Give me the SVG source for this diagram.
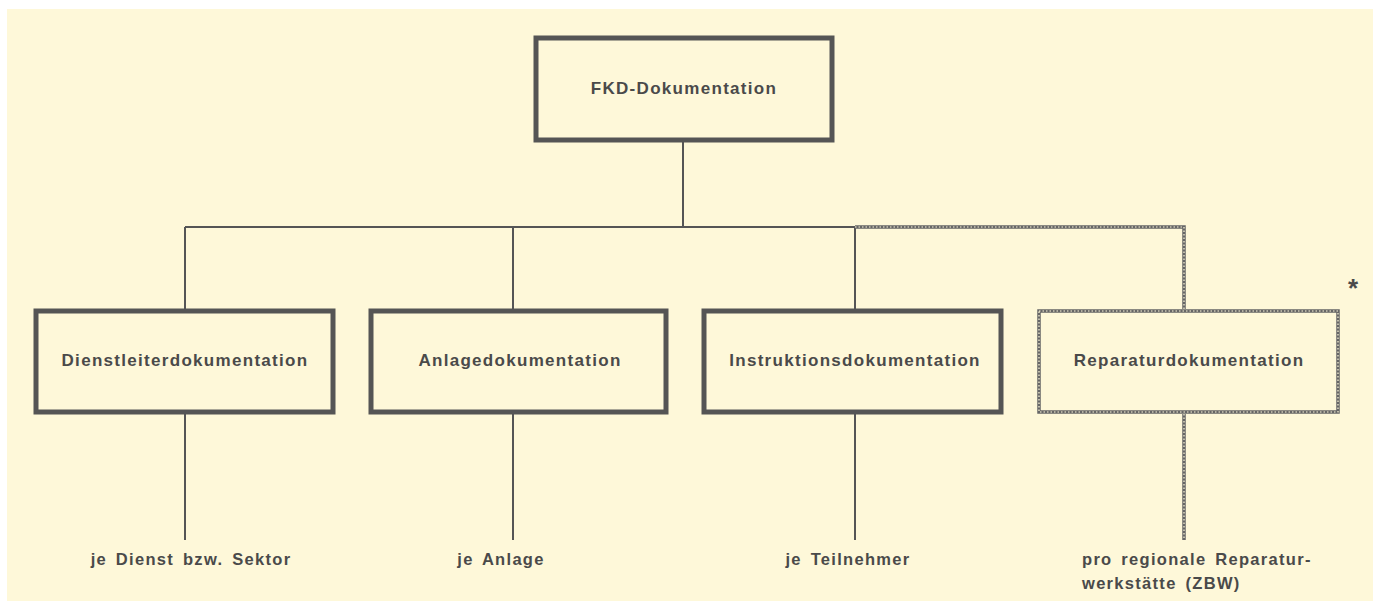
<svg xmlns="http://www.w3.org/2000/svg" width="1378" height="603" viewBox="0 0 1378 603">
<style>
.box{fill:none;stroke:#555;stroke-width:5}
.ck{fill:none;stroke:#666;stroke-width:3.5}
.ckd{fill:none;stroke:#fef8d9;stroke-width:1.2;stroke-dasharray:1.5 2}
.ln{fill:none;stroke:#555;stroke-width:2}
text{font-family:"Liberation Sans",Arial,sans-serif;font-weight:bold;font-size:17px;fill:#4a4a4a;letter-spacing:1.3px}
.c{text-anchor:middle}
.lb{font-size:16.5px;word-spacing:3px}
</style>
<rect x="0" y="0" width="1378" height="603" fill="#ffffff"/>
<rect x="7" y="9" width="1366" height="592" fill="#fef8d9"/>
<g id="connectors">
<path class="ln" d="M683,142 V227 M185,227 H855 M185,227 V309 M513,227 V309 M855,227 V309"/>
<path class="ck" d="M855,227 H1184 V309"/>
<path class="ckd" d="M855,227 H1184 V309"/>
<path class="ln" d="M185,414 V540 M513,414 V540 M855,414 V540"/>
<path class="ck" d="M1184,414 V540"/>
<path class="ckd" d="M1184,414 V540"/>
</g>
<g id="root">
<rect class="box" x="536" y="38" width="296" height="102"/>
<text class="c" x="684" y="94">FKD-Dokumentation</text>
</g>
<g id="dienst">
<rect class="box" x="36" y="311" width="297" height="101"/>
<text class="c" x="185" y="366">Dienstleiterdokumentation</text>
</g>
<g id="anlage">
<rect class="box" x="371" y="311" width="295" height="101"/>
<text class="c" x="520" y="366">Anlagedokumentation</text>
</g>
<g id="instr">
<rect class="box" x="704" y="311" width="297" height="101"/>
<text class="c" x="855" y="366">Instruktionsdokumentation</text>
</g>
<g id="repar">
<rect class="ck" x="1039" y="311" width="299" height="101"/>
<rect class="ckd" x="1039" y="311" width="299" height="101"/>
<text class="c" x="1189" y="366">Reparaturdokumentation</text>
</g>
<g id="labels">
<text class="c lb" x="191" y="565">je Dienst bzw. Sektor</text>
<text class="c lb" x="501" y="565">je Anlage</text>
<text class="c lb" x="848" y="565">je Teilnehmer</text>
<text class="lb" x="1082" y="565">pro regionale Reparatur-</text>
<text class="lb" x="1082" y="589">werkstätte (ZBW)</text>
<text x="1348" y="297" style="font-size:26px">*</text>
</g>
</svg>
